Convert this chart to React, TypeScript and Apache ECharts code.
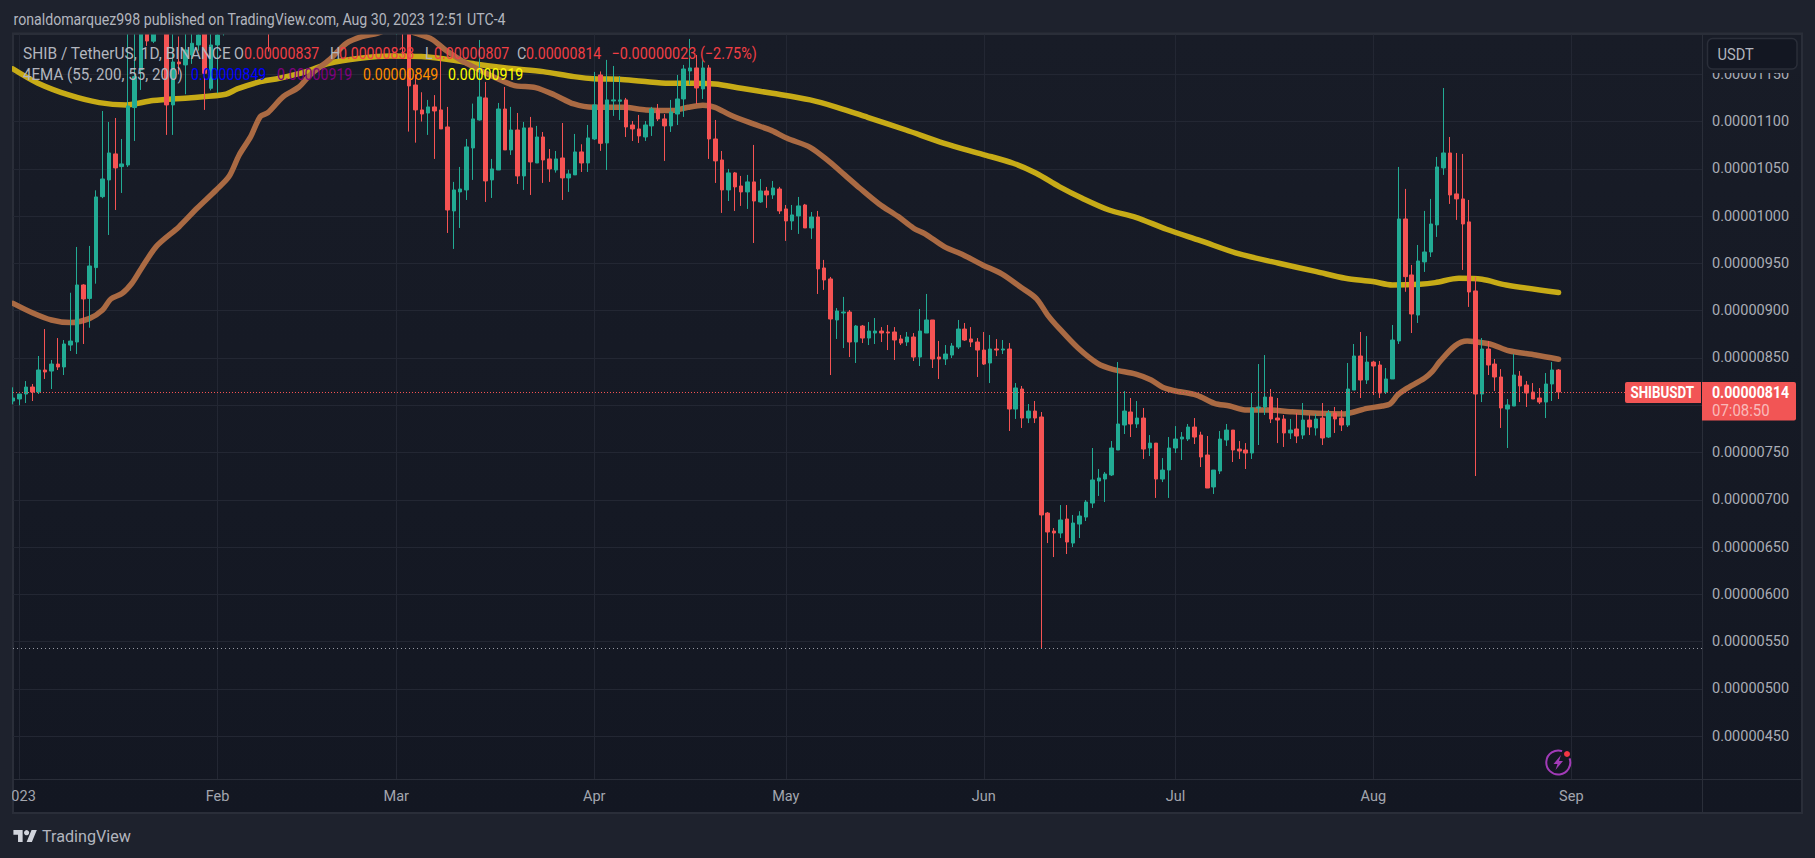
import React, { useEffect, useRef } from "react";
import * as echarts from "echarts";

// Price unit: 1e-8 USDT. Rows: [open, close, low, high], first row is Dec 31 2022 (day -1)
const firstDay = -1;
const ohlc: number[][] = [
  [804.5,807.7,801,819],[806.6,811.9,799.9,812],[811.9,819.3,802.4,825.6],[819.3,814,804.5,822.5],[814,837.3,811.9,852.1],
  [837.3,835.2,827.8,880.6],[836.2,843.6,817.2,847.9],[843.6,840.5,837.3,871.1],[840.5,864.8,832,869],[863.7,867.9,857.4,919],
  [866.9,927.2,854.2,967.4],[927.2,912.4,864.8,928],[913,947.3,882,968.5],[945.6,1020.3,928.6,1027.3],[1020.6,1039.3,1019,1111.2],
  [1038.3,1066.8,980.1,1099.6],[1065.8,1051,1006.5,1103.8],[1052.4,1055.2,1024.5,1081.6],[1054.1,1116.5,1052,1198],[1114.8,1147.5,1079.5,1200],
  [1154.6,1210,1133.4,1222],[1210,1185.2,1180,1216],[1185,1208,1183,1216],[1200,1212,1195,1222],[1208,1117.6,1085.9,1216],
  [1117.6,1163,1085.9,1200],[1163,1161,1150,1190],[1159.9,1175.7,1128.9,1200],[1170.4,1182.8,1161,1195],[1181,1191.6,1175,1200],
  [1205,1151,1112.3,1215],[1135.2,1181,1133,1196],[1181,1191.6,1130,1200],[1195,1205,1191,1215],[1210,1250,1200,1262],
  [1250,1290,1240,1305],[1290,1275,1262,1312],[1275,1330,1268,1345],[1330,1310,1296,1352],[1310,1280,1262,1326],
  [1280,1228,1174,1296],[1228,1265,1218,1278],[1265,1298,1256,1312],[1298,1345,1288,1362],[1345,1405,1330,1440],
  [1405,1440,1390,1490],[1440,1395,1372,1468],[1395,1370,1350,1415],[1370,1342,1322,1390],[1342,1318,1296,1360],
  [1318,1335,1302,1358],[1335,1305,1286,1350],[1305,1322,1292,1338],[1322,1292,1276,1340],[1292,1270,1252,1308],
  [1270,1286,1256,1300],[1286,1258,1240,1298],[1258,1240,1226,1272],[1240,1252,1228,1264],[1252,1226,1210,1262],
  [1205,1226,1192,1238],[1226,1210,1168.7,1240],[1210,1137.7,1089.4,1218],[1138.7,1112.3,1077.7,1150],[1112.3,1108,1100,1131],
  [1109,1115.5,1085.9,1122.9],[1115.5,1111.2,1060.5,1128],[1112.3,1092.2,1092.2,1168.7],[1094.3,1006.5,982.2,1115.5],[1005.5,1027.7,965.3,1036.2],
  [1025.6,1028.7,987.5,1052],[1027.7,1073.2,1017.1,1081.6],[1072.1,1102.8,1038.3,1119],[1101.7,1126,1101,1186.3],[1125,1037.2,1015,1141.9],
  [1038.3,1049.9,1019.2,1060.5],[1048.8,1113.3,1048.8,1119.7],[1113.3,1070,1070,1136.6],[1070,1091.1,1064.7,1115.5],[1091.1,1042.5,1034,1109.1],
  [1042.5,1093.3,1027.7,1099.6],[1093.3,1057.3,1022.4,1104.9],[1056.2,1083.7,1056.2,1095.4],[1083.7,1059.4,1035.1,1089],[1060.5,1049.9,1036.2,1071],
  [1048.8,1060.5,1046,1068.9],[1061.5,1040.4,1017.1,1098.5],[1040.4,1044.6,1025.6,1049],[1043.6,1067.9,1043.6,1086.9],[1067.9,1056.2,1046.7,1076],
  [1056.2,1082.7,1046.7,1096.4],[1081.6,1117.6,1080.5,1152.5],[1149.3,1077,1069,1153],[1077.4,1122.9,1048.8,1165.2],[1121.8,1122.9,1106,1158.8],
  [1121.5,1122.9,1101.7,1148.2],[1122.9,1094.3,1083.7,1125],[1096.4,1092.2,1079.5,1100.6],[1092.2,1084.8,1077.4,1107],[1083.7,1096.4,1079.5,1100.6],
  [1095.4,1113.3,1084.8,1115.5],[1112.3,1102.8,1100.6,1118.6],[1102.8,1095.4,1058.4,1108],[1095.4,1110.2,1089,1122.9],[1108,1123.9,1096.4,1149.3],
  [1123.9,1155.6,1104.9,1159.9],[1153.5,1156.7,1139,1187.4],[1156.7,1135.5,1118.6,1170.4],[1134.5,1156.7,1123.9,1165.2],[1156.7,1081.6,1060.5,1159.9],
  [1081.6,1058.4,1035.1,1101.7],[1059.4,1027.7,1003.4,1068.9],[1027.7,1045.7,1016,1049.9],[1045.7,1030.9,1005.5,1046.7],[1031.9,1025.6,1010.8,1042.5],
  [1025.6,1036.2,1007.6,1043.6],[1036.2,1016,971.6,1075.3],[1015,1026.6,1014,1039.3],[1026.6,1022.4,1008.7,1030.9],[1022.4,1029.8,1018.2,1037.2],
  [1028.7,1005.5,1002.3,1030.9],[1007.6,994.9,973.8,1011.8],[994.9,1001.3,985.4,1011.8],[1000.2,1010.8,981.2,1020.3],[1011.8,987.5,987.5,1012.9],
  [987.5,999.1,975.9,1004.4],[999.1,944.2,917.7,1005.5],[945.2,932.5,922,953.7],[933.6,891.2,832,935.7],[890.2,899.7,870.1,902.8],
  [897.6,898.6,860.5,914.6],[898.6,866.9,851,900.7],[866.9,883.8,844.7,884.9],[883.8,871.1,865.8,884.9],[871.1,878.5,863.7,888],
  [876.4,878.5,864.8,892.3],[878.5,876.4,866.9,882.7],[877.5,876.4,858.4,884.9],[877.5,869,847.9,882.7],[870.1,865.8,863.7,874.3],
  [866.9,872.2,862.7,877.5],[872.2,851,846.8,876.4],[851,878.5,841.5,901.8],[876.4,890.2,876.4,917.7],[890.2,848.9,839.4,890.2],
  [851,848.9,827.8,868],[848.9,854.2,842.6,863.7],[853.1,862.7,850,865.8],[861.6,880.6,859.5,890.2],[880.6,869,868,887],
  [870.1,866.9,861.6,882.7],[866.9,858.4,829.9,871.1],[858.4,843.6,842.6,877.5],[844.7,859.5,823.5,874.3],[859.5,858.4,852,870],
  [858.4,859.5,854.2,869],[859.5,796,772.8,865.8],[796,818.3,785.5,823.5],[817.2,786.5,776,820.4],[786.5,793.9,781.2,801.3],
  [793.9,786.5,781.2,804.5],[787.6,684,543,792.9],[686,666,654.3,687.1],[667,664.9,639.5,670.2],[664.9,678.7,659.6,694.5],
  [679.7,655.4,642.7,694.5],[654.3,675.5,650.1,684],[674.4,682.9,659.6,688],[681.8,697.7,677.6,699.8],[696.6,721,691.4,754.8],
  [719.9,723.1,704.1,732.6],[722,727.3,697.7,729.4],[726.3,754.8,725.2,762.2],[752.7,780.2,752.7,845.7],[779.1,793.9,769.6,815],
  [792.9,780.2,766.4,807.7],[780.2,786.5,776,804.5],[786.5,753.7,743.2,797.1],[754.8,760,746.3,768.5],[760,722,702,760],
  [722,731.5,718.8,744.2],[731.5,754.8,702,766.4],[754.8,764.3,749.5,778],[764.3,766.4,742.1,771.7],[764.3,777,762.2,780.2],
  [777,766.4,759,786.5],[768.5,745.3,734.7,772],[747.4,712.5,712.5,767.5],[713.6,731.5,706.2,731.5],[730.5,764.3,727.3,772.8],
  [763.3,773.8,757,780.2],[773.8,752.7,740,773.8],[753.7,751.6,743.2,762.2],[752.7,749.5,732.6,760],[749.5,797.1,743.2,813],
  [797.1,798.2,758,843.6],[798.2,808.7,789.7,853.1],[808.7,785.5,781.2,817.2],[786.5,784.4,760,807.7],[785.5,770.7,755.9,789.7],
  [770.7,773.8,764.3,785.5],[774.9,767.5,760,791.8],[768.5,784.4,764.3,802.4],[784.4,777,768.5,789.7],[776,785.5,768,790.8],
  [786.5,765.4,758,802.4],[766.4,791.8,765.4,795],[791.8,785.5,770.7,798.2],[786.5,779.1,772.8,795],[779.1,817.2,777,844.7],
  [816.1,852.1,816.1,864.8],[852.1,826.7,807.7,877.5],[826.7,845.7,822.5,873.2],[845.7,841.5,810.8,847],[842.6,813,807.7,846.8],
  [814,827.8,811.9,839.4],[827.8,869,827.8,884.9],[868,997,864.8,1052],[997,936,920,1028.8],[937.8,896.5,876.4,948.4],
  [895.4,952.6,887,969.5],[951.6,962.1,941,1005.5],[962.1,991.7,956.8,1018.2],[990.7,1052,978,1062.6],[1051,1066.8,1043.6,1135.5],
  [1066.8,1022.4,1012.9,1083.7],[1023.5,1018.2,996,1066.8],[1018.2,991.7,943.1,1065.8],[993.9,919.8,904,1017.1],[920.9,811.9,725.2,935.7],
  [811.9,859.5,803.4,871.1],[859.5,842.6,832,868],[843.6,829.9,815.1,848.9],[829.9,797.1,776,838.3],[796,800.3,754.8,806.6],
  [799.2,832,799.2,854.2],[830.9,820.4,803.4,836.2],[821.4,813,798.2,825.6],[814,806.6,806.6,823.5],[807.7,803.4,801.3,818.2],
  [803.4,822.5,786.5,834.1],[822.5,837.3,804.5,845.7],[837.3,814,806.6,838.3],
];

// EMA lines: [day, value] knots
const ema55: number[][] = [
  [-1,907.8],[2,897.9],[5,890.2],[8,887.4],[11,891.9],[13,900.7],[14.3,912.4],[16.1,918.4],[17.6,929],[19.1,944.9],[21.5,968.5],[25,988.9],
  [27.8,1008.3],[30.8,1027.7],[32.8,1041.8],[34.4,1064.7],[36.2,1084.1],[37.7,1105.2],[38.9,1109.5],[41.3,1126.4],[43.7,1136.3],[45.5,1149.3],
  [48.5,1165.2],[51.2,1182.8],[53.6,1189.8],[56,1193.4],[59,1200],[62,1193.4],[64.6,1187],[66.7,1175.7],[70,1161.6],[77.2,1138.7],[80.8,1135.9],
  [83.8,1128.1],[86.8,1118.6],[89.8,1115.1],[94.5,1115.1],[98.1,1112.3],[102.3,1111.6],[104.7,1115.1],[107,1117.2],[108.9,1115.1],[111.3,1107],
  [114.9,1097.5],[117.8,1090.4],[120.2,1082.3],[123.8,1072.8],[126.8,1057.6],[129.2,1043.6],[131.6,1029.5],[134.6,1012.9],[137.6,999.5],[140,987.2],
  [141.8,981.2],[144.8,967.8],[147.8,959],[150.8,948.4],[153.8,938.9],[156.8,924.8],[159.2,913.1],[161,895.4],[162.8,881.3],[165.8,860.2],[168.8,844.3],
  [171.2,838],[174.8,833],[177.2,826.7],[179,819],[180.8,815.4],[184.3,810.8],[187.1,802],[189.5,799.2],[191.9,795],[195.4,795],[199,793.2],[203.2,791.5],
  [207.4,790.8],[211,796.7],[213.4,799.2],[214.6,801.3],[215.8,810.8],[217,816.8],[220,828.5],[221.2,835.5],[222.4,846.1],[224.8,863],[226.7,867.9],
  [229.6,865.5],[230.8,863.7],[233.2,857.7],[237.4,853.1],[241,848.6],
];
const ema200: number[][] = [
  [-1,1155.6],[2.9,1140.5],[7.7,1128.1],[12.5,1120],[16.7,1117.6],[20.9,1122.2],[26.9,1125.3],[32.3,1128.9],[34.1,1134.5],[37.7,1142.2],[40.7,1145.8],
  [44.9,1152.8],[48.5,1161.6],[53.3,1166.9],[58,1169.4],[62.9,1168.7],[67.7,1165.2],[71.3,1160.9],[76.6,1156.3],[82,1152.8],[86.8,1147.5],[90.4,1145.1],
  [93.9,1144.7],[97.5,1142.6],[101.7,1140.5],[105.3,1140.5],[108.9,1139.8],[113,1135.2],[117.9,1129.9],[123.8,1122.9],[128,1115.1],[132.8,1104.5],
  [138.8,1091.1],[144.8,1077],[150.8,1065.4],[155.6,1055.9],[159.2,1045.3],[162.8,1031.2],[166.4,1018.9],[170.6,1006.5],[174.8,998.8],[179.6,986.1],
  [184.9,974.1],[191,960],[197.2,950.2],[203.1,941.3],[207.6,934.3],[211.9,930.8],[215,927.2],[219.3,928],[221.7,929.7],[225.4,934.3],[229,933.2],
  [232.8,927.2],[241,919.2],
];

const monthDays = [0, 31, 59, 90, 120, 151, 181, 212, 243];
const monthLabels = ["2023", "Feb", "Mar", "Apr", "May", "Jun", "Jul", "Aug", "Sep"];
const priceTicks = [450, 500, 550, 600, 650, 700, 750, 800, 850, 900, 950, 1000, 1050, 1100, 1150];
const lastPrice = 814;
const lowPrice = 543;

const headerText = "ronaldomarquez998 published on TradingView.com, Aug 30, 2023 12:51 UTC-4";
const legendRow1 = [
  { t: "SHIB / TetherUS, 1D, BINANCE", x: 23, c: "#b2b5be", s: 0.968 },
  { t: "O", x: 234, c: "#b2b5be", s: 0.9 },
  { t: "0.00000837", x: 244, c: "#f23f45", s: 0.885 },
  { t: "H", x: 330, c: "#b2b5be", s: 0.9 },
  { t: "0.00000838", x: 339, c: "#f23f45", s: 0.885 },
  { t: "L", x: 425, c: "#b2b5be", s: 0.9 },
  { t: "0.00000807", x: 434, c: "#f23f45", s: 0.885 },
  { t: "C", x: 517, c: "#b2b5be", s: 0.9 },
  { t: "0.00000814", x: 526, c: "#f23f45", s: 0.885 },
  { t: "\u22120.00000023 (\u22122.75%)", x: 611.5, c: "#f23f45", s: 0.9 },
];
const legendRow2 = [
  { t: "4EMA (55, 200, 55, 200)", x: 23, c: "#b2b5be", s: 0.946 },
  { t: "0.00000849", x: 191, c: "#0000ff", s: 0.885 },
  { t: "0.00000919", x: 277, c: "#800080", s: 0.885 },
  { t: "0.00000849", x: 363, c: "#ff8c00", s: 0.885 },
  { t: "0.00000919", x: 448, c: "#ffff00", s: 0.885 },
];

const UP = "#22ab94";
const DOWN = "#f55353";
const PAGE = "#1e222d";
const LINE = "#2a2e39";
const GRID = "#232733";
const FONT = "Roboto, sans-serif";

const fmt = (v: number) => (v / 1e8).toFixed(8);

echarts.graphic.registerShape(
  "tvlogo",
  echarts.graphic.extendPath("M14 22H7V11H0V4h14v18zM28 22h-8l7.5-18h8L28 22z", {}) as any
);

function label(t: string, x: number, y: number, c: string, sx: number, extra: any = {}) {
  return {
    type: "text",
    x,
    y,
    scaleX: sx,
    z: 120,
    silent: true,
    style: { text: t, fill: c, fontFamily: FONT, fontSize: 16, verticalAlign: "middle", ...extra },
  };
}

export default function App() {
  const ref = useRef<HTMLDivElement>(null);
  useEffect(() => {
    const chart = echarts.init(ref.current!, undefined, { renderer: "svg" });
    const bgGradient = new echarts.graphic.LinearGradient(0, 0, 0, 1, [
      { offset: 0, color: "#181c27" },
      { offset: 1, color: "#131722" },
    ]);
    chart.setOption({
      animation: false,
      backgroundColor: PAGE,
      grid: { left: 13, top: 34, width: 1689, height: 745, containLabel: false },
      xAxis: {
        type: "value",
        min: -1.018,
        max: 263.46,
        axisLine: { show: true, lineStyle: { color: LINE, width: 1 } },
        axisTick: { show: false, customValues: monthDays },
        splitLine: { show: true, lineStyle: { color: GRID, width: 1 } },
        axisLabel: {
          customValues: monthDays,
          margin: 10,
          color: "#a3a6af",
          fontFamily: FONT,
          fontSize: 14.5,
          formatter: (v: number) => monthLabels[monthDays.indexOf(v)] ?? "",
        },
      },
      yAxis: {
        type: "value",
        position: "right",
        min: 404.8,
        max: 1192.6,
        axisLine: { show: true, onZero: false, lineStyle: { color: LINE, width: 1 } },
        axisTick: { show: false, customValues: priceTicks },
        splitLine: { show: true, lineStyle: { color: GRID, width: 1 } },
        axisLabel: {
          customValues: priceTicks,
          margin: 10,
          color: "#a9acb5",
          fontFamily: FONT,
          fontSize: 14.5,
          formatter: (v: number) => fmt(v),
        },
      },
      series: [
        {
          type: "line",
          name: "EMA 200",
          data: ema200,
          showSymbol: false,
          smooth: 0.3,
          z: 1,
          lineStyle: { color: "#c7ab17", width: 5.5, cap: "round", join: "round" },
        },
        {
          type: "line",
          name: "EMA 55",
          data: ema55,
          showSymbol: false,
          smooth: 0.3,
          z: 1,
          lineStyle: { color: "#aa6a43", width: 5.5, cap: "round", join: "round" },
        },
        {
          type: "candlestick",
          name: "SHIBUSDT",
          z: 3,
          barWidth: 4,
          data: ohlc.map((r, i) => [firstDay + i, r[0], r[1], r[2], r[3]]),
          encode: { x: 0, y: [1, 2, 3, 4] },
          itemStyle: { color: UP, color0: DOWN, borderColor: UP, borderColor0: DOWN, borderWidth: 1 },
          markLine: {
            silent: true,
            symbol: "none",
            label: { show: false },
            data: [
              { yAxis: lastPrice, lineStyle: { color: "#f55353", type: [1, 2], width: 1 } },
              { yAxis: lowPrice, lineStyle: { color: "#9a9da6", type: [1, 3], width: 1 } },
            ],
          },
        },
      ],
      graphic: [
        { type: "rect", z: -10, silent: true, shape: { x: 13, y: 34, width: 1789, height: 779 }, style: { fill: bgGradient, stroke: LINE, lineWidth: 2 } },
        // page margins that trim what leaves the plot on the left and on top
        { type: "rect", z: 50, silent: true, shape: { x: 0, y: 0, width: 1815, height: 33 }, style: { fill: PAGE } },
        { type: "rect", z: 50, silent: true, shape: { x: 0, y: 0, width: 12, height: 858 }, style: { fill: PAGE } },
        { type: "line", z: 51, silent: true, shape: { x1: 12, y1: 33.5, x2: 1803, y2: 33.5 }, style: { stroke: LINE, lineWidth: 2 } },
        { type: "line", z: 100, silent: true, shape: { x1: 1702.5, y1: 779, x2: 1702.5, y2: 813 }, style: { stroke: LINE, lineWidth: 1 } },
        { type: "line", z: 100, silent: true, shape: { x1: 1702, y1: 779.5, x2: 1802, y2: 779.5 }, style: { stroke: LINE, lineWidth: 1 } },

        { type: "rect", z: 110, silent: true, shape: { x: 1703, y: 35, width: 98, height: 38 }, style: { fill: "#181c27" } },
        { type: "rect", z: 111, silent: true, shape: { x: 1707.5, y: 38.5, width: 89.5, height: 30.5, r: 5 }, style: { fill: "#131722", stroke: "#2a2e39", lineWidth: 1.5 } },
        label("USDT", 1717.5, 54.5, "#b2b5be", 0.915),

        label(headerText, 13.5, 20, "#b2b5be", 0.885),
        ...legendRow1.map((p) => label(p.t, p.x, 53.5, p.c, p.s)),
        ...legendRow2.map((p) => label(p.t, p.x, 75, p.c, p.s)),

        { type: "rect", z: 112, silent: true, shape: { x: 1625, y: 382, width: 76, height: 21, r: [2, 0, 0, 2] }, style: { fill: "#f25555" } },
        { type: "rect", z: 112, silent: true, shape: { x: 1702, y: 382, width: 94, height: 38.5, r: [0, 2, 2, 0] }, style: { fill: "#f25555" } },
        label("SHIBUSDT", 1630.5, 393, "#ffffff", 0.834, { fontWeight: "bold" }),
        label(fmt(lastPrice), 1712, 393, "#ffffff", 0.885, { fontWeight: "bold" }),
        label("07:08:50", 1712, 411, "rgba(255,255,255,0.6)", 0.935),

        { type: "arc", z: 100, silent: true, shape: { cx: 1558.3, cy: 762.5, r: 12, startAngle: -0.35, endAngle: -1.25 + Math.PI * 2, clockwise: true }, style: { fill: "none", stroke: "#a23bb8", lineWidth: 2 } },
        { type: "circle", z: 101, silent: true, shape: { cx: 1567, cy: 754, r: 3 }, style: { fill: "#f23645" } },
        { type: "polygon", z: 101, silent: true, shape: { points: [[1561, 755], [1553.5, 764], [1557.5, 764], [1555.5, 770], [1563, 761], [1559, 761]] }, style: { fill: "#a23bb8" } },

        { type: "tvlogo", z: 100, silent: true, x: 13.4, y: 827.4, scaleX: 0.66, scaleY: 0.66, style: { fill: "#d1d4dc" } },
        { type: "circle", z: 100, silent: true, shape: { cx: 26.6, cy: 832.7, r: 2.6 }, style: { fill: "#d1d4dc" } },
        label("TradingView", 42, 836.5, "#b2b5be", 0.95, { fontSize: 17 }),
      ],
    });
    return () => chart.dispose();
  }, []);
  return <div ref={ref} style={{ position: "fixed", left: 0, top: 0, width: 1815, height: 858 }} />;
}
